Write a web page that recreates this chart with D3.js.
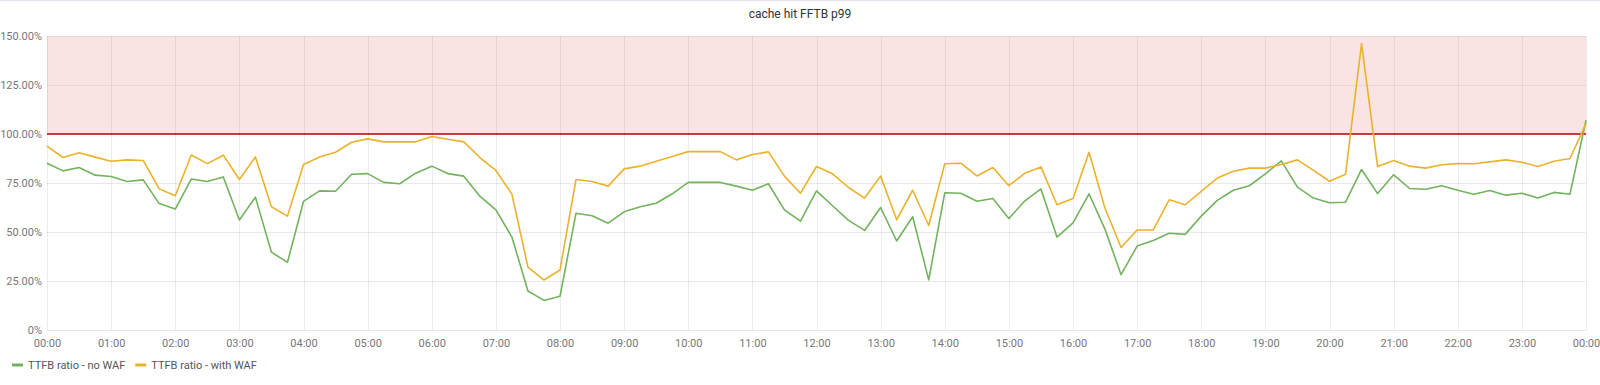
<!DOCTYPE html>
<html>
<head>
<meta charset="utf-8">
<script src="https://cdn.jsdelivr.net/npm/d3@7"></script>
<style>
  body { margin: 0; background: #fff; font-family: Roboto, "Open Sans", sans-serif; }
  #chart { width: 1600px; height: 385px; }
</style>
</head>
<body>
<div id="chart"></div>
<script>
// 15-minute samples, 00:00 -> 00:00 next day (97 points)
var seriesNames = ["TTFB ratio - no WAF", "TTFB ratio - with WAF"];
var seriesColors = ["#73b25f", "#ebb22c"];

var noWaf = [
  85.1, 81.2, 82.9, 79.0, 78.3, 75.8, 76.6, 64.5, 61.7, 77.0, 75.8, 78.1,
  56.1, 67.8, 39.7, 34.5, 65.6, 71.0, 70.8, 79.5, 79.8, 75.3, 74.6, 80.0,
  83.6, 79.8, 78.5, 68.3, 61.3, 47.4, 19.9, 15.1, 17.2, 59.6, 58.3, 54.5,
  60.3, 62.9, 64.7, 69.5, 75.3, 75.3, 75.3, 73.4, 71.3, 74.6, 61.3, 55.5,
  71.0, 63.4, 55.9, 50.8, 62.5, 45.4, 57.8, 25.6, 70.0, 69.8, 65.7, 67.1,
  56.9, 65.9, 72.0, 47.4, 54.7, 69.5, 51.3, 28.2, 42.8, 45.7, 49.4, 48.8,
  58.1, 66.1, 71.3, 73.6, 79.7, 86.3, 72.9, 67.3, 64.9, 65.2, 81.9, 69.6,
  79.2, 72.2, 71.8, 73.6, 71.3, 69.3, 71.2, 68.8, 69.8, 67.3, 70.2, 69.3,
  107.0
];

var withWaf = [
  93.8, 88.0, 90.4, 88.2, 86.1, 86.8, 86.5, 72.0, 68.5, 89.3, 84.9, 89.2,
  76.8, 88.3, 62.9, 58.1, 84.4, 88.3, 90.7, 95.8, 97.5, 96.0, 96.0, 96.0,
  98.7, 97.3, 96.0, 88.0, 81.4, 69.3, 32.1, 25.5, 30.6, 76.8, 75.8, 73.4,
  82.2, 83.6, 86.1, 88.5, 91.0, 91.0, 91.0, 86.8, 89.5, 90.9, 78.5, 69.8,
  83.4, 79.7, 72.7, 67.3, 78.5, 56.2, 71.3, 53.3, 84.8, 85.1, 78.6, 82.9,
  73.6, 80.0, 83.2, 63.9, 67.1, 90.7, 62.0, 42.1, 51.0, 51.0, 66.4, 63.9,
  70.7, 77.5, 81.0, 82.6, 82.6, 84.4, 86.8, 81.4, 75.9, 79.5, 146.1, 83.4,
  86.5, 83.6, 82.6, 84.3, 84.9, 84.8, 85.8, 86.8, 85.6, 83.4, 86.1, 87.5,
  105.3
];

var yTicks = [0, 25, 50, 75, 100, 125, 150];
var threshold = 100;
var chartTitle = "cache hit FFTB p99";

var margin = { top: 36, right: 14, bottom: 55, left: 47 },
    width = 1600 - margin.left - margin.right,
    height = 385 - margin.top - margin.bottom;

var svg = d3.select("#chart").append("svg")
    .attr("width", 1600)
    .attr("height", 385);

// panel top border
svg.append("line")
    .attr("x1", 0).attr("x2", 1600)
    .attr("y1", 0.5).attr("y2", 0.5)
    .style("stroke", "#dce3ec");

svg.append("text")
    .attr("x", 800)
    .attr("y", 18)
    .attr("text-anchor", "middle")
    .style("font-family", "Roboto, sans-serif")
    .style("font-size", "12px")
    .style("fill", "#333")
    .text(chartTitle);

var g = svg.append("g")
    .attr("transform", "translate(" + margin.left + "," + margin.top + ")");

var start = new Date(2020, 0, 1, 0, 0);
var end = new Date(2020, 0, 2, 0, 0);
var times = noWaf.map(function(d, i) { return new Date(start.getTime() + i * 15 * 60000); });

var x = d3.scaleTime().domain([start, end]).range([0, width]);
var y = d3.scaleLinear().domain([0, 150]).range([height, 0]);

// threshold zone
g.append("rect")
    .attr("x", 0)
    .attr("y", y(150))
    .attr("width", width)
    .attr("height", y(threshold) - y(150))
    .style("fill", "#fae4e3");

// grid
g.append("g")
    .attr("class", "grid")
    .selectAll("line.h")
    .data(yTicks)
    .enter().append("line")
    .attr("x1", 0).attr("x2", width)
    .attr("y1", function(d) { return Math.round(y(d)) + 0.5; })
    .attr("y2", function(d) { return Math.round(y(d)) + 0.5; })
    .style("stroke", function(d) { return d > threshold ? "rgba(150,100,100,0.12)" : "#e8e8e8"; });

var hourTicks = x.ticks(d3.timeHour.every(1));
g.append("g")
    .selectAll("line.v")
    .data(hourTicks)
    .enter().append("line")
    .attr("x1", function(d) { return Math.round(x(d)) + 0.5; })
    .attr("x2", function(d) { return Math.round(x(d)) + 0.5; })
    .attr("y1", y(150)).attr("y2", height)
    .style("stroke", "rgba(0,0,0,0.075)");

// axes
var yAxis = g.append("g")
    .call(d3.axisLeft(y).tickValues(yTicks).tickSize(0).tickPadding(5)
        .tickFormat(function(d) { return d === 0 ? "0%" : d.toFixed(2) + "%"; }));
yAxis.select(".domain").remove();
yAxis.selectAll("text")
    .style("font-family", "Roboto, sans-serif")
    .style("font-size", "11px")
    .style("fill", "#777");

var xAxis = g.append("g")
    .attr("transform", "translate(0," + height + ")")
    .call(d3.axisBottom(x).tickValues(hourTicks).tickSize(0).tickPadding(9)
        .tickFormat(d3.timeFormat("%H:%M")));
xAxis.select(".domain").style("stroke", "#e8e8e8");
xAxis.selectAll("text")
    .style("font-family", "Roboto, sans-serif")
    .style("font-size", "11px")
    .style("fill", "#777");

// threshold line
g.append("line")
    .attr("x1", 0).attr("x2", width)
    .attr("y1", y(threshold)).attr("y2", y(threshold))
    .style("stroke", "#c00000")
    .style("stroke-width", 1.6);

var line = d3.line()
    .x(function(d, i) { return x(times[i]); })
    .y(function(d) { return y(d); });

[noWaf, withWaf].forEach(function(s, k) {
    g.append("path")
        .datum(s)
        .attr("d", line)
        .style("fill", "none")
        .style("stroke", seriesColors[k])
        .style("stroke-width", 1.6)
        .style("stroke-linejoin", "round");
});

// legend
var legend = svg.append("g").attr("transform", "translate(12,365)");
var lx = 0;
seriesNames.forEach(function(name, k) {
    var item = legend.append("g").attr("transform", "translate(" + lx + ",0)");
    item.append("rect")
        .attr("x", 0).attr("y", -1.5)
        .attr("width", 11).attr("height", 3)
        .style("fill", seriesColors[k]);
    var t = item.append("text")
        .attr("x", 16).attr("y", 4)
        .style("font-family", "Roboto, sans-serif")
        .style("font-size", "11px")
        .style("fill", "#555")
        .text(name);
    lx += 16 + t.node().getComputedTextLength() + 10;
});
</script>
</body>
</html>
